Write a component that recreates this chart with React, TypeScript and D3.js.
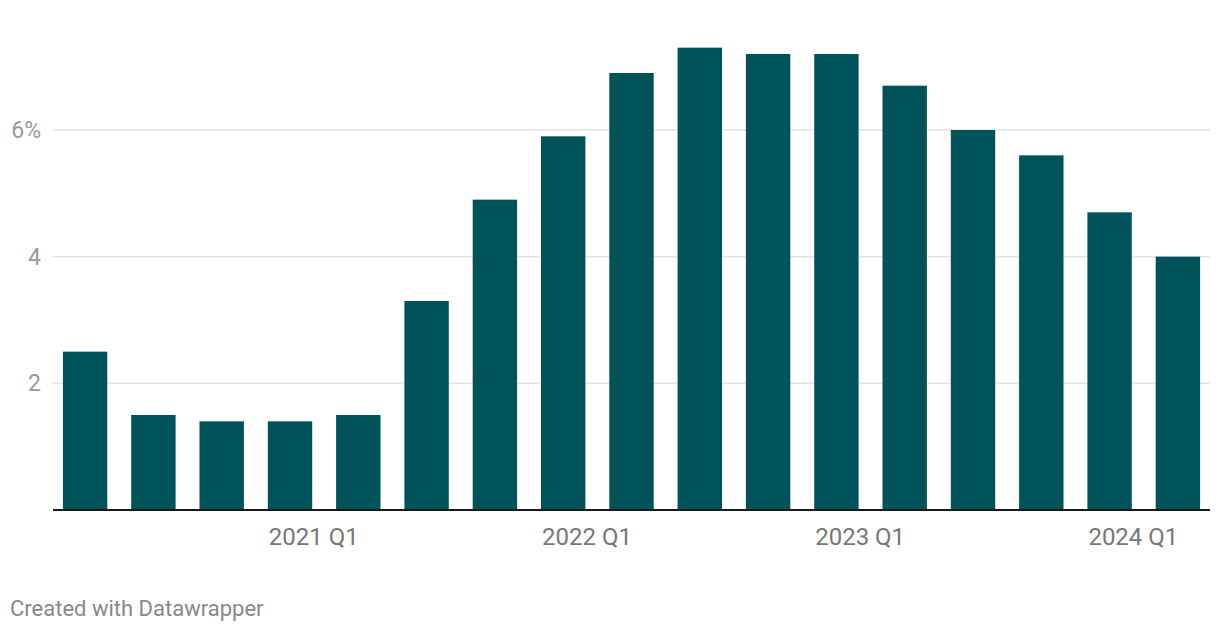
import React from "react";
import * as d3 from "d3";

const quarters = [
  "2020 Q2", "2020 Q3", "2020 Q4",
  "2021 Q1", "2021 Q2", "2021 Q3", "2021 Q4",
  "2022 Q1", "2022 Q2", "2022 Q3", "2022 Q4",
  "2023 Q1", "2023 Q2", "2023 Q3", "2023 Q4",
  "2024 Q1", "2024 Q2",
];
const values = [2.5, 1.5, 1.4, 1.4, 1.5, 3.3, 4.9, 5.9, 6.9, 7.3, 7.2, 7.2, 6.7, 6.0, 5.6, 4.7, 4.0];
const yTicks = [2, 4, 6];
const xLabels = ["2021 Q1", "2022 Q1", "2023 Q1", "2024 Q1"];

const W = 1220;
const H = 634;
const left = 53;
const right = 1210;
const baseY = 510;
const font = "Roboto, 'Noto Sans', sans-serif";

export default function App() {
  const x = d3
    .scaleBand<string>()
    .domain(quarters)
    .range([left, right])
    .paddingInner(0.35)
    .paddingOuter(0.145);
  const y = d3.scaleLinear().domain([0, 6]).range([baseY, 130]);

  return (
    <svg
      width={W}
      height={H}
      style={{ position: "absolute", left: 0, top: 0, background: "#fff" }}
    >
      {yTicks.map((t) => (
        <g key={t}>
          <line x1={left} x2={right} y1={y(t)} y2={y(t)} stroke="#e3e3e3" strokeWidth={1.5} />
          <text
            x={41}
            y={y(t)}
            dy="0.35em"
            textAnchor="end"
            fontFamily={font}
            fontSize={23}
            fill="#999"
          >
            {t === 6 ? "6%" : String(t)}
          </text>
        </g>
      ))}
      {quarters.map((q, i) => (
        <rect
          key={q}
          x={x(q)}
          y={y(values[i])}
          width={x.bandwidth()}
          height={baseY - y(values[i])}
          fill="#01535a"
        />
      ))}
      <line x1={left} x2={right} y1={baseY} y2={baseY} stroke="#1a1a1a" strokeWidth={2} />
      {xLabels.map((l) => (
        <text
          key={l}
          x={(x(l) as number) + 1}
          y={545}
          textAnchor="start"
          fontFamily={font}
          fontSize={24}
          fill="#777"
        >
          {l}
        </text>
      ))}
      <text x={10} y={616} fontFamily={font} fontSize={22} fill="#888">
        Created with Datawrapper
      </text>
    </svg>
  );
}
